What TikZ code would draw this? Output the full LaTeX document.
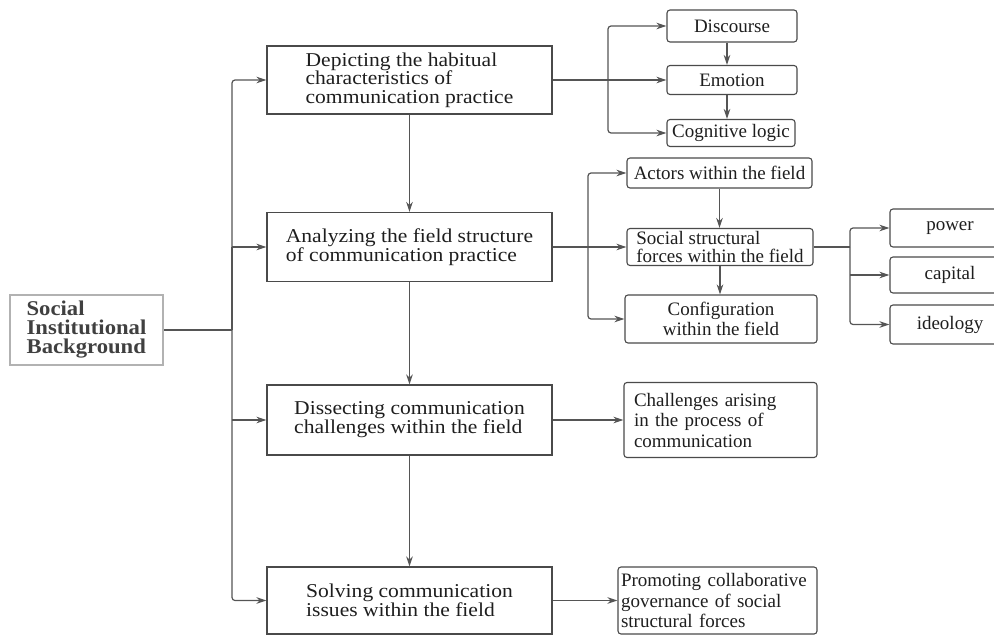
\documentclass[tikz,border=0pt]{standalone}
\usepackage{fontspec}
\setmainfont{Liberation Serif}
\newfontfamily\mainboxfont{Liberation Serif}[FakeStretch=1.1]
\newfontfamily\leftboxfont{Liberation Serif}[FakeStretch=1.08]
\usetikzlibrary{arrows.meta}
\definecolor{lc}{HTML}{555555}
\definecolor{bc}{HTML}{4A4A4A}
\definecolor{tc}{HTML}{1E1E1E}
\begin{document}
\begin{tikzpicture}[x=1pt,y=1pt,
  mainb/.style={draw=bc, line width=1.1pt, inner sep=0pt, align=left,
    font=\mainboxfont\fontsize{19.6}{17.5}\selectfont, text=tc, minimum width=285},
  subb/.style={draw=bc, line width=1.1pt, rounded corners=3pt, inner sep=0pt, align=left,
    font=\fontsize{19}{20.5}\selectfont, text=tc},
  conn/.style={draw=lc, line width=1.2pt},
  arr/.style={conn, -{Stealth[length=10pt,width=6.5pt]}},
  rc/.style={rounded corners=3pt},
]
\clip (0,0) rectangle (994,-635);

% left box
\node[draw=gray!60, line width=2.5pt, minimum width=153, minimum height=70, inner sep=0pt,
  align=left, font=\leftboxfont\bfseries\fontsize{21}{19}\selectfont, text=black!75]
  (sib) at (86.5,-330) {Social\\Institutional\\Background};

% main boxes
\node[mainb, minimum height=68, font=\mainboxfont\fontsize{19.6}{18.6}\selectfont] (m1) at (409.5,-80) {Depicting the habitual\\characteristics of\\communication practice};
\node[mainb, minimum height=69] (m2) at (409.5,-247) {Analyzing the field structure\\of communication practice};
\node[mainb, minimum height=70] (m3) at (409.5,-420) {Dissecting communication\\challenges within the field};
\node[mainb, minimum height=67] (m4) at (409.5,-600.5) {Solving communication\\issues within the field};

% sub boxes of m1
\node[subb, minimum width=130, minimum height=32, align=center] (disc) at (732,-26) {Discourse};
\node[subb, minimum width=130, minimum height=29, align=center] (emo) at (732,-80) {Emotion};
\node[subb, minimum width=128, minimum height=27, align=center] (cog) at (731,-133) {Cognitive logic};

% sub boxes of m2
\node[subb, minimum width=185, minimum height=30, align=center] (act) at (719.5,-173) {Actors within the field};
\node[subb, minimum width=186, minimum height=37, font=\fontsize{19}{17.5}\selectfont] (soc) at (720,-247) {Social structural\\forces within the field};
\node[subb, minimum width=192, minimum height=48, align=center] (conf) at (721,-319) {Configuration\\within the field};

% sub boxes of soc
\node[subb, minimum width=120, minimum height=38, align=center] (pow) at (950,-228) {power};
\node[subb, minimum width=120, minimum height=36, align=center] (cap) at (950,-275) {capital};
\node[subb, minimum width=120, minimum height=39, align=center] (ideo) at (950,-324.5) {ideology};

% sub boxes of m3, m4
\node[subb, minimum width=193, minimum height=75, text width=173] (chal) at (720.5,-420) {Challenges arising\\in the process of\\communication};
\node[subb, minimum width=199, minimum height=67, text width=193] (prom) at (717.5,-600.5) {Promoting collaborative\\governance of social\\structural forces};

% spine on the left
\coordinate (spine) at (232,-330);
\draw[conn] (sib.east) -- (spine);
\draw[arr, rc] (spine) |- (m1.west);
\draw[arr] (spine |- m2.west) -- (m2.west);
\draw[conn] (spine) -- (spine |- m2.west);
\draw[arr] (spine |- m3.west) -- (m3.west);
\draw[arr, rc] (spine) |- (m4.west);

% main chain
\draw[arr] (m1.south) -- (m2.north);
\draw[arr] (m2.south) -- (m3.north);
\draw[arr] (m3.south) -- (m4.north);

% m1 branch
\coordinate (b1) at (608,-80);
\draw[arr] (m1.east) -- (emo.west);
\draw[arr, rc] (b1) |- (disc.west);
\draw[arr, rc] (b1) |- (cog.west);
\draw[arr] ([xshift=-5pt]disc.south) -- ([xshift=-5pt]emo.north);
\draw[arr] ([xshift=-5pt]emo.south) -- ([xshift=-4pt]cog.north);

% m2 branch
\coordinate (b2) at (588,-247);
\draw[arr] (m2.east) -- (soc.west);
\draw[arr, rc] (b2) |- (act.west);
\draw[arr, rc] (b2) |- (conf.west);
\draw[arr] (act.south) -- (act.south |- soc.north);
\draw[arr] (soc.south) -- (soc.south |- conf.north);

% soc branch
\coordinate (b3) at (850,-247);
\draw[conn] (soc.east) -- (b3);
\draw[arr, rc] (b3) |- (pow.west);
\draw[arr] (b3 |- cap.west) -- (cap.west);
\draw[arr, rc] (b3) |- (ideo.west);

% m3, m4 outputs
\draw[arr] (m3.east) -- (chal.west);
\draw[arr] (m4.east) -- (prom.west);
\end{tikzpicture}
\end{document}
